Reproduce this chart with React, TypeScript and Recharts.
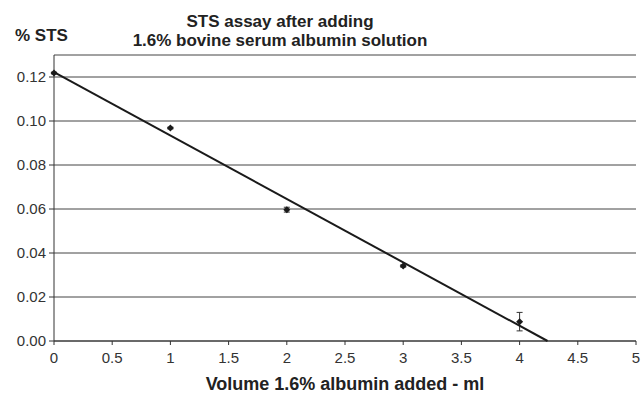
import React from 'react';
import { ComposedChart, Scatter, XAxis, YAxis, CartesianGrid, ErrorBar } from 'recharts';

const volumes = [0, 1, 2, 3, 4];
const stsValues = [0.1218, 0.0968, 0.0597, 0.0341, 0.0088];
const stsErrors = [0.0004, 0.0004, 0.0011, 0.0005, 0.0042];

const trendX = [0, 4.24];
const trendY = [0.1222, 0];

const xTicks = [0, 0.5, 1, 1.5, 2, 2.5, 3, 3.5, 4, 4.5, 5];
const yTicks = [0, 0.02, 0.04, 0.06, 0.08, 0.1, 0.12];

const points = volumes.map((v, i) => ({ x: v, y: stsValues[i], err: stsErrors[i] }));
const trend = trendX.map((v, i) => ({ x: v, y: trendY[i] }));

const font = '"Liberation Sans", Arial, sans-serif';

// small filled diamond like the original markers
const SmallDiamond = (props: any) => {
  const { cx, cy } = props;
  if (cx == null || cy == null) return null;
  const r = 3.5;
  return <path d={`M${cx},${cy - r}L${cx + r},${cy}L${cx},${cy + r}L${cx - r},${cy}Z`} fill="#1a1a1a" />;
};

const App: React.FC = () => {
  return (
    <div style={{ position: 'absolute', left: 0, top: 0, width: 643, height: 403, fontFamily: font }}>
      <div style={{ position: 'absolute', left: 80, width: 400, top: 12, textAlign: 'center', fontWeight: 'bold', fontSize: 17, lineHeight: '19px', color: '#222' }}>
        STS assay after adding
        <br />
        1.6% bovine serum albumin solution
      </div>
      <div style={{ position: 'absolute', left: 15, top: 26, fontWeight: 'bold', fontSize: 17, color: '#222' }}>% STS</div>
      <ComposedChart width={643} height={403} margin={{ top: 55, right: 7, bottom: 30, left: 0 }}>
        <CartesianGrid vertical={false} stroke="#444" strokeWidth={1} />
        <XAxis
          type="number"
          dataKey="x"
          domain={[0, 5]}
          ticks={xTicks}
          interval={0}
          height={32}
          stroke="#333"
          tickSize={4}
          tickMargin={7}
          tick={{ fill: '#333', fontSize: 15, fontFamily: font }}
          label={{ value: 'Volume 1.6% albumin added - ml', position: 'bottom', offset: 4, style: { fill: '#222', fontWeight: 'bold', fontSize: 18, fontFamily: font } }}
        />
        <YAxis
          type="number"
          dataKey="y"
          domain={[0, 0.13]}
          ticks={yTicks}
          interval={0}
          width={54}
          stroke="#333"
          tickSize={5}
          tickMargin={3}
          tickFormatter={(v: number) => v.toFixed(2)}
          tick={{ fill: '#333', fontSize: 15, fontFamily: font }}
        />
        <Scatter
          data={trend}
          line={{ stroke: '#1a1a1a', strokeWidth: 2 }}
          shape={() => null}
          isAnimationActive={false}
        />
        <Scatter data={points} fill="#1a1a1a" shape={<SmallDiamond />} isAnimationActive={false}>
          <ErrorBar dataKey="err" direction="y" width={3} stroke="#333" strokeWidth={1} />
        </Scatter>
      </ComposedChart>
    </div>
  );
};

export default App;
